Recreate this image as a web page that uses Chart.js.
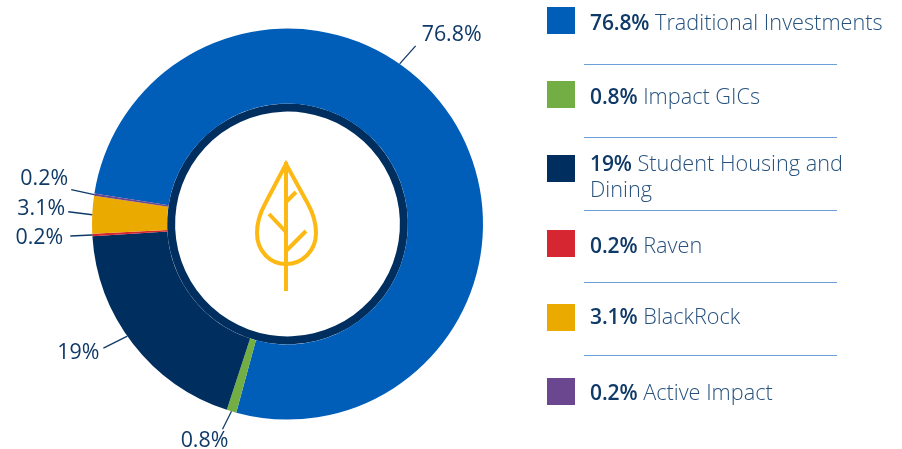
<!DOCTYPE html>
<html lang="en">
<head>
  <meta charset="UTF-8" />
  <title>Portfolio allocation</title>
  <style>
    html, body { margin: 0; padding: 0; background: #fff; }
    body { width: 902px; height: 449px; position: relative; overflow: hidden; font-family: "Open Sans", sans-serif; }
    #chart { position: absolute; left: 0; top: 0; }
    #leaf { position: absolute; left: 0; top: 0; }
    .swatch { position: absolute; left: 547px; width: 28px; height: 27px; }
    .item { position: absolute; left: 590px; width: 296px; font-size: 21.7px; line-height: 25px; color: #27527e; font-weight: 300; }
    .item b { font-weight: 600; font-size: 21px; letter-spacing: -0.1px; color: #0f3a68; }
    .rule { position: absolute; left: 584px; width: 253px; height: 1px; background: #6a9fd8; }
  </style>
  <script src="https://cdn.jsdelivr.net/npm/chart.js"></script>
</head>
<body>
  <canvas id="chart" width="902" height="449"></canvas>
  <svg id="leaf" width="902" height="449" fill="none" stroke="#fdb913" stroke-width="4">
    <path d="M286 164 L308 204 C314 215 316 224 316 233 C316 251 302 264 286 264 C270 264 257 251 257 233 C257 224 259 215 265 204 Z" />
    <path d="M286 162 V291 M269 214 L286 232 M306 231 L286 251 M296 192 L286 202" />
  </svg>
  <div id="legend"></div>

  <script>
    const categories = ["Traditional Investments", "Impact GICs", "Student Housing and Dining", "Raven", "BlackRock", "Active Impact"];
    const shares = [76.8, 0.8, 19, 0.2, 3.1, 0.2];
    const colors = ["#005eb8", "#72ae44", "#002f5f", "#d62631", "#ebaa00", "#6a478f"];
    const ringValues = [100];
    const ringColors = ["#002f5f"];

    // leader lines: where along the slice they start, then the line end and label centre relative to it
    const callouts = [
      { at: 0.42, line: [16, -18], text: [52, -29] },
      { at: 0.5, line: [-9, 18], text: [-27, 30] },
      { at: 0.54, line: [-24, 12], text: [-49, 17] },
      { at: 0.5, line: [-22, 1], text: [-53, 3] },
      { at: 0.5, line: [-24, -3], text: [-51, -6] },
      { at: 0.5, line: [-23, -5], text: [-50, -16] }
    ];

    const calloutPlugin = {
      id: "callouts",
      afterDatasetsDraw(chart) {
        const ctx = chart.ctx;
        chart.getDatasetMeta(0).data.forEach((arc, i) => {
          const c = callouts[i];
          const a = arc.startAngle + (arc.endAngle - arc.startAngle) * c.at;
          const x = arc.x + Math.cos(a) * arc.outerRadius;
          const y = arc.y + Math.sin(a) * arc.outerRadius;
          ctx.strokeStyle = "#0f3a68";
          ctx.lineWidth = 1.3;
          ctx.beginPath();
          ctx.moveTo(x, y);
          ctx.lineTo(x + c.line[0], y + c.line[1]);
          ctx.stroke();
          ctx.fillStyle = "#0f3a68";
          ctx.font = "400 21.4px 'Open Sans'";
          ctx.textAlign = "center";
          ctx.textBaseline = "middle";
          ctx.fillText(shares[i] + "%", x + c.text[0], y + c.text[1]);
        });
      }
    };

    new Chart(document.getElementById("chart"), {
      type: "doughnut",
      data: {
        labels: categories,
        datasets: [
          { data: shares, backgroundColor: colors, borderWidth: 0, weight: 75 },
          { data: ringValues, backgroundColor: ringColors, borderWidth: 0, weight: 8 }
        ]
      },
      options: {
        responsive: false,
        animation: false,
        rotation: -81,
        cutout: "57.5%",
        layout: { padding: { left: 92, right: 419, top: 28, bottom: 29 } },
        plugins: { legend: { display: false }, tooltip: { enabled: false } }
      },
      plugins: [calloutPlugin]
    });

    // html legend, one row per slice
    const legend = document.getElementById("legend");
    const swatchTops = [7, 81, 155, 230, 304, 378];
    const textTops = [9, 83, 150, 232, 303, 379];
    const ruleTops = [64, 137, 210, 282, 355];
    categories.forEach((name, i) => {
      const s = document.createElement("div");
      s.className = "swatch";
      s.style.top = swatchTops[i] + "px";
      s.style.background = colors[i];
      legend.appendChild(s);
      const t = document.createElement("div");
      t.className = "item";
      t.style.top = textTops[i] + "px";
      t.innerHTML = "<b>" + shares[i] + "%</b> " + name;
      legend.appendChild(t);
    });
    ruleTops.forEach(top => {
      const r = document.createElement("div");
      r.className = "rule";
      r.style.top = top + "px";
      legend.appendChild(r);
    });
  </script>
</body>
</html>
